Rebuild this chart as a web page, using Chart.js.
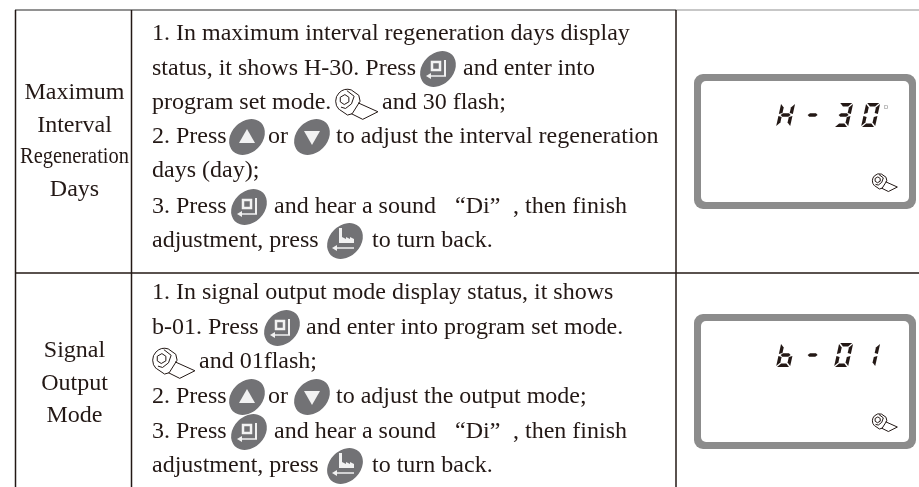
<!DOCTYPE html>
<html>
<head>
<meta charset="utf-8">
<title>Program settings</title>
<script src="https://cdn.jsdelivr.net/npm/chart.js@4"></script>
<style>
  html, body { margin: 0; padding: 0; background: #fff; }
  canvas { display: block; }
</style>
</head>
<body>
<canvas id="manual" width="919" height="487"></canvas>
<script>
// content
const rowLabels = [
  ["Maximum", "Interval", "Regeneration", "Days"],
  ["Signal", "Output", "Mode"]
];
// strings are text, @names are icons
const rowLines = [
  [
    ["1. In maximum interval regeneration days display"],
    ["status, it shows H-30. Press", "@enter", "and enter into"],
    ["program set mode.", "@wrench", "and 30 flash;"],
    ["2. Press", "@up", "or", "@down", "to adjust the interval regeneration"],
    ["days (day);"],
    ["3. Press", "@enter", "and hear a sound", "“Di”", ", then finish"],
    ["adjustment, press", "@back", "to turn back."]
  ],
  [
    ["1. In signal output mode display status, it shows"],
    ["b-01. Press", "@enter", "and enter into program set mode."],
    ["@wrench", "and 01flash;"],
    ["2. Press", "@up", "or", "@down", "to adjust the output mode;"],
    ["3. Press", "@enter", "and hear a sound", "“Di”", ", then finish"],
    ["adjustment, press", "@back", "to turn back."]
  ]
];
const lcdReadouts = ["H-30", "b-01"];
const lcdUnits = ["D", ""];

// layout, kept apart from the content
const lineX = [
  [
    [152],
    [152, 438, 463],
    [152, 335, 382],
    [152, 247, 268, 312, 336],
    [152],
    [152, 249, 274, 455, 513],
    [152, 345, 372]
  ],
  [
    [152],
    [152, 282, 306],
    [152, 199],
    [152, 247, 268, 312, 336],
    [152, 249, 274, 455, 513],
    [152, 345, 372]
  ]
];
const lineY = [[40, 75, 109, 143, 177, 213, 247], [299, 334, 368, 403, 438, 472]];
const labelY = [[99, 132, 163, 196], [357, 390, 422]];
const lcdTop = [74, 314];
const segments = {
  H: "bcefg", b: "cdefg", "0": "abcdef", "1": "bc", "3": "abcdg", "-": "g"
};
const textColor = "#231815";
const keyColor = "#727275";

function keyShape(ctx, x, y) {
  ctx.fillStyle = keyColor;
  ctx.beginPath();
  ctx.ellipse(x, y + 1, 20, 15.5, -Math.PI / 4, 0, Math.PI * 2);
  ctx.fill();
  ctx.fillStyle = "#f2f2f2";
  ctx.strokeStyle = "#f2f2f2";
}

function arrowLeft(ctx, x1, x2, y) {
  ctx.lineWidth = 1.5;
  ctx.beginPath();
  ctx.moveTo(x1, y);
  ctx.lineTo(x2, y);
  ctx.stroke();
  ctx.beginPath();
  ctx.moveTo(x2 - 4, y);
  ctx.lineTo(x2 + 1, y - 3);
  ctx.lineTo(x2 + 1, y + 3);
  ctx.closePath();
  ctx.fill();
}

function drawEnter(ctx, x, y) {
  keyShape(ctx, x, y);
  ctx.lineWidth = 2.5;
  ctx.strokeRect(x - 6, y - 6, 8, 8);
  ctx.lineWidth = 2;
  ctx.beginPath();
  ctx.moveTo(x + 7, y - 8);
  ctx.lineTo(x + 7, y + 8);
  ctx.stroke();
  arrowLeft(ctx, x + 8, x - 8, y + 8);
}

function drawBack(ctx, x, y) {
  keyShape(ctx, x, y);
  ctx.beginPath();
  ctx.moveTo(x - 6, y - 12);
  ctx.lineTo(x - 3, y - 12);
  ctx.lineTo(x - 3, y - 3);
  ctx.lineTo(x + 1, y - 1);
  ctx.lineTo(x + 1, y - 3);
  ctx.lineTo(x + 5, y - 1);
  ctx.lineTo(x + 5, y - 3);
  ctx.lineTo(x + 9, y - 1);
  ctx.lineTo(x + 9, y + 3);
  ctx.lineTo(x - 6, y + 3);
  ctx.closePath();
  ctx.fill();
  arrowLeft(ctx, x + 9, x - 9, y + 8);
}

function drawArrowKey(ctx, x, y, up) {
  keyShape(ctx, x, y);
  const dir = up ? 1 : -1;
  ctx.beginPath();
  ctx.moveTo(x, y + 1 - 8 * dir);
  ctx.lineTo(x + 8, y + 1 + 6 * dir);
  ctx.lineTo(x - 8, y + 1 + 6 * dir);
  ctx.closePath();
  ctx.fill();
}

// wrench is sketched in a 130 x 95 box, then scaled
function drawWrench(ctx, x, y, scale) {
  ctx.save();
  ctx.translate(x, y);
  ctx.scale(scale, scale);
  ctx.strokeStyle = textColor;
  ctx.lineWidth = 1 / scale;
  ctx.lineJoin = "round";
  // outer edge of the head
  ctx.beginPath();
  ctx.arc(38, 40, 36, Math.PI * 0.75, Math.PI * 1.6);
  ctx.lineTo(72, 22);
  ctx.lineTo(76, 40);
  ctx.lineTo(52, 78);
  ctx.lineTo(38, 82);
  ctx.lineTo(13, 65);
  // jaw
  ctx.moveTo(36, 8);
  ctx.lineTo(58, 25);
  ctx.lineTo(50, 48);
  ctx.lineTo(32, 62);
  ctx.lineTo(18, 58);
  ctx.stroke();
  // nut
  ctx.beginPath();
  ctx.moveTo(16, 28);
  ctx.lineTo(30, 20);
  ctx.lineTo(42, 28);
  ctx.lineTo(42, 42);
  ctx.lineTo(28, 50);
  ctx.lineTo(16, 42);
  ctx.closePath();
  ctx.stroke();
  // handle
  ctx.beginPath();
  ctx.moveTo(70, 45);
  ctx.lineTo(130, 72);
  ctx.lineTo(84, 95);
  ctx.lineTo(50, 78);
  ctx.stroke();
  ctx.restore();
}

function drawIcon(ctx, name, x, baseline) {
  const mid = baseline - 7;
  if (name === "enter") drawEnter(ctx, x, mid);
  if (name === "back") drawBack(ctx, x, mid);
  if (name === "up") drawArrowKey(ctx, x, mid, true);
  if (name === "down") drawArrowKey(ctx, x, mid, false);
  if (name === "wrench") drawWrench(ctx, x, baseline - 21, 0.33);
}

// one slanted seven segment digit, x is left of the cell
function drawDigit(ctx, ch, x, top) {
  const w = 14, h = 24, t = 3.4, slant = 0.22;
  const on = segments[ch] || "";
  const px = (u, v) => [x + u + (h - v) * slant, top + v];
  const bars = {
    a: [[1, 0], [w - 1, 0], [w - 1 - t, t], [1 + t, t]],
    b: [[w, 1], [w, h / 2 - 1], [w - t, h / 2 - 2], [w - t, 1 + t]],
    c: [[w, h / 2 + 1], [w, h - 1], [w - t, h - 1 - t], [w - t, h / 2 + 2]],
    d: [[1, h], [w - 1, h], [w - 1 - t, h - t], [1 + t, h - t]],
    e: [[0, h / 2 + 1], [0, h - 1], [t, h - 1 - t], [t, h / 2 + 2]],
    f: [[0, 1], [0, h / 2 - 1], [t, h / 2 - 2], [t, 1 + t]],
    g: [[2, h / 2], [4, h / 2 - 1.7], [w - 4, h / 2 - 1.7], [w - 2, h / 2], [w - 4, h / 2 + 1.7], [4, h / 2 + 1.7]]
  };
  ctx.fillStyle = textColor;
  for (const s of on) {
    ctx.beginPath();
    bars[s].forEach((p, i) => {
      const [a, b] = px(p[0], p[1]);
      if (i === 0) ctx.moveTo(a, b); else ctx.lineTo(a, b);
    });
    ctx.closePath();
    ctx.fill();
  }
}

function roundBox(ctx, x, y, w, h, r, color) {
  ctx.fillStyle = color;
  ctx.beginPath();
  ctx.roundRect(x, y, w, h, r);
  ctx.fill();
}

function drawLcd(ctx, index) {
  const top = lcdTop[index];
  roundBox(ctx, 694, top, 222, 135, 9, "#8c8c8c");
  roundBox(ctx, 701, top + 7, 208, 121, 5, "#fff");
  const cells = [776, 803, 834, 861];
  const chars = lcdReadouts[index];
  [...chars].forEach((ch, i) => drawDigit(ctx, ch, cells[i], top + 29));
  if (lcdUnits[index]) {
    ctx.fillStyle = "#8a8a8a";
    ctx.font = "6px 'Liberation Sans'";
    ctx.textAlign = "left";
    ctx.fillText(lcdUnits[index], 884, top + 35);
  }
  drawWrench(ctx, 872, top + 99, 0.195);
}

const manualPage = {
  id: "manualPage",
  beforeDraw(chart) {
    const ctx = chart.ctx;
    ctx.save();
    ctx.fillStyle = "#fff";
    ctx.fillRect(0, 0, 919, 487);

    // table rules
    ctx.lineWidth = 1.5;
    ctx.strokeStyle = "#6e6e6e";
    ctx.beginPath(); ctx.moveTo(15, 10); ctx.lineTo(676, 10); ctx.stroke();
    ctx.strokeStyle = "#b4b4b4";
    ctx.beginPath(); ctx.moveTo(676, 10); ctx.lineTo(919, 10); ctx.stroke();
    ctx.strokeStyle = "#231815";
    ctx.beginPath(); ctx.moveTo(15, 273); ctx.lineTo(919, 273); ctx.stroke();
    [15.5, 131.5, 676].forEach((x) => {
      ctx.beginPath(); ctx.moveTo(x, 10); ctx.lineTo(x, 487); ctx.stroke();
    });

    // first column
    ctx.font = "24px 'Liberation Serif'";
    ctx.fillStyle = textColor;
    ctx.textAlign = "center";
    rowLabels.forEach((labels, r) => {
      labels.forEach((label, i) => {
        ctx.fillText(label, 74.5, labelY[r][i], 109);
      });
    });

    // instruction lines
    rowLines.forEach((lines, r) => {
      lines.forEach((tokens, l) => {
        tokens.forEach((token, t) => {
          const x = lineX[r][l][t];
          if (token[0] === "@") {
            drawIcon(ctx, token.slice(1), x, lineY[r][l]);
          } else {
            ctx.font = "24px 'Liberation Serif'";
            ctx.fillStyle = textColor;
            ctx.textAlign = "left";
            ctx.fillText(token, x, lineY[r][l]);
          }
        });
      });
    });

    lcdReadouts.forEach((_, i) => drawLcd(ctx, i));
    ctx.restore();
  }
};

new Chart(document.getElementById("manual"), {
  type: "scatter",
  data: { datasets: [] },
  options: {
    responsive: false,
    animation: false,
    events: [],
    layout: { padding: 0 },
    plugins: { legend: { display: false }, tooltip: { enabled: false } },
    scales: {
      x: { display: false, min: 0, max: 919 },
      y: { display: false, min: 0, max: 487, reverse: true }
    }
  },
  plugins: [manualPage]
});
</script>
</body>
</html>
